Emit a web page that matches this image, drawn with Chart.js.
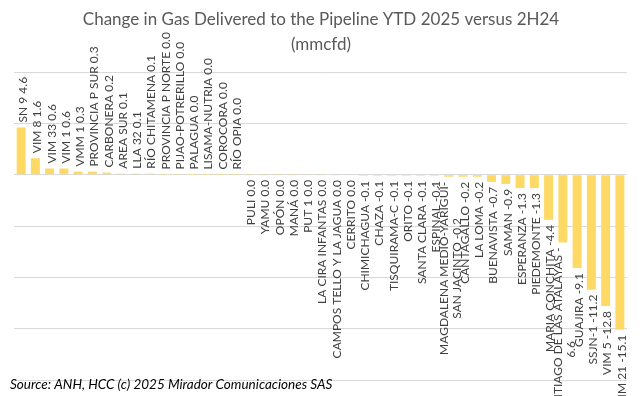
<!DOCTYPE html>
<html>
<head>
<meta charset="utf-8">
<script src="https://cdn.jsdelivr.net/npm/chart.js@4.4.1/dist/chart.umd.min.js"></script>
<style>
    html, body { margin: 0; padding: 0; background: #ffffff; }
</style>
</head>
<body>
<canvas id="gasChart" width="642" height="396"></canvas>
<script>
// fields, in the order they are plotted
var fields = [
    'SN 9', 'VIM 8', 'VIM 33', 'VIM 1', 'VMM 1', 'PROVINCIA P SUR', 'CARBONERA', 'AREA SUR',
    'LLA 32', 'RÍO CHITAMENA', 'PROVINCIA P NORTE', 'PIJAO-POTRERILLO', 'PALAGUA', 'LISAMA-NUTRIA',
    'COROCORA', 'RÍO OPIA', 'PULI', 'YAMU', 'OPÓN', 'MANÁ', 'PUT 1', 'LA CIRA INFANTAS',
    'CAMPOS TELLO Y LA JAGUA', 'CERRITO', 'CHIMICHAGUA', 'CHAZA', 'TISQUIRAMA-C', 'ORITO',
    'SANTA CLARA', 'ESPINAL', 'MAGDALENA MEDIO-YARIGUÍ-\nSAN JACINTO', 'CANTAGALLO', 'LA LOMA',
    'BUENAVISTA', 'SAMAN', 'ESPERANZA', 'PIEDEMONTE', 'MARIA CONCHITA',
    'AREA SANTIAGO DE LAS ATALAYAS', 'GUAJIRA', 'SSJN-1', 'VIM 5', 'VIM 21'
];

var deltas = [
    4.6, 1.6, 0.6, 0.6, 0.3, 0.3, 0.2, 0.1,
    0.1, 0.1, 0.02, 0.02, 0.01, 0.01,
    0.01, 0.01, -0.01, -0.01, -0.01, -0.01, -0.02, -0.02,
    -0.03, -0.04, -0.1, -0.1, -0.1, -0.1,
    -0.1, -0.1, -0.2, -0.2, -0.2,
    -0.7, -0.9, -1.3, -1.3, -4.4,
    -6.6, -9.1, -11.2, -12.8, -15.1
];

var yMin = -20;
var yMax = 10;
var yStep = 5;

var chartTitle = ['Change in Gas Delivered to the Pipeline YTD 2025 versus 2H24', '(mmcfd)'];
var sourceNote = 'Source: ANH, HCC (c) 2025 Mirador Comunicaciones SAS';

var labelFont = '12px Lato';

function fmtValue(v) {
    return (Math.round(v * 10) / 10).toFixed(1);
}

// label = name + value; very long ones get split after the last dash
function labelLines(ctx, name, v) {
    var text = name + ' ' + fmtValue(v);
    if (text.indexOf('\n') >= 0) return text.split('\n');
    if (ctx.measureText(text).width > 180) {
        var cut = text.lastIndexOf('-') + 1;
        return [text.slice(0, cut), text.slice(cut)];
    }
    return [text];
}

// rotated "category value" labels at the outside end of each bar
var barLabels = {
    id: 'barLabels',
    afterDatasetsDraw: function (chart) {
        var ctx = chart.ctx;
        var bars = chart.getDatasetMeta(0).data;
        ctx.save();
        ctx.font = labelFont;
        ctx.fillStyle = '#404040';
        ctx.textBaseline = 'middle';
        ctx.textAlign = 'center';
        bars.forEach(function (bar, i) {
            var v = deltas[i];
            var up = v >= 0;
            var lines = labelLines(ctx, fields[i], v);
            var longest = Math.max.apply(null, lines.map(function (l) { return ctx.measureText(l).width; }));
            ctx.save();
            ctx.translate(bar.x + 2, up ? bar.y - 5 : bar.y + 5);
            ctx.rotate(-Math.PI / 2);
            lines.forEach(function (line, k) {
                var dy = (k - (lines.length - 1) / 2) * 13;
                ctx.fillText(line, up ? longest / 2 : -longest / 2, dy);
            });
            ctx.restore();
        });
        ctx.restore();
    }
};

var titleAndSource = {
    id: 'titleAndSource',
    afterDraw: function (chart) {
        var ctx = chart.ctx;
        ctx.save();
        ctx.fillStyle = '#595959';
        ctx.font = '17px Lato';
        ctx.textAlign = 'center';
        ctx.textBaseline = 'middle';
        ctx.fillText(chartTitle[0], 321, 20);
        ctx.fillText(chartTitle[1], 321, 45);

        ctx.fillStyle = '#000000';
        ctx.font = 'italic 13.5px Lato';
        ctx.textAlign = 'left';
        ctx.fillText(sourceNote, 10, 385);
        ctx.restore();
    }
};

var ctx = document.getElementById('gasChart').getContext('2d');
new Chart(ctx, {
    type: 'bar',
    data: {
        labels: fields,
        datasets: [{
            data: deltas,
            backgroundColor: '#FFD966',
            borderWidth: 0,
            barPercentage: 0.63,
            categoryPercentage: 1.0
        }]
    },
    options: {
        responsive: false,
        animation: false,
        devicePixelRatio: 1,
        layout: {
            padding: { left: 14, right: 15, top: 72, bottom: 16 }
        },
        plugins: {
            legend: { display: false },
            tooltip: { enabled: false },
            title: { display: false }
        },
        scales: {
            x: { display: false },
            y: {
                min: yMin,
                max: yMax,
                ticks: { display: false, stepSize: yStep },
                border: { display: false },
                grid: { color: '#d9d9d9', drawTicks: false, lineWidth: 1 }
            }
        }
    },
    plugins: [barLabels, titleAndSource]
});
</script>
</body>
</html>
